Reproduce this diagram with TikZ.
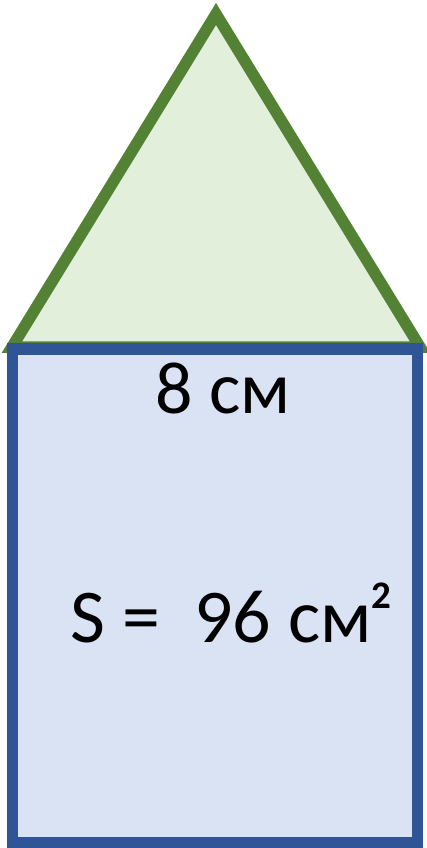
\documentclass[tikz,border=0pt]{standalone}
\usepackage{fontspec}
\setmainfont{Carlito}
\definecolor{trifill}{HTML}{E2EFDA}
\definecolor{tridraw}{HTML}{548235}
\definecolor{recfill}{HTML}{DAE3F3}
\definecolor{recdraw}{HTML}{2F5597}
\newcommand{\mysq}{\kern-1pt\raisebox{34pt}{\fontsize{39}{42}\selectfont\bfseries 2}}
\begin{document}
\begin{tikzpicture}[x=1pt,y=-1pt,
  tri/.style={fill=trifill,draw=tridraw,line width=11.5pt,line join=miter},
  rec/.style={fill=recfill,draw=recdraw,line width=11.5pt,line join=miter},
  lbl/.style={inner sep=0pt,anchor=base west,font=\fontsize{74}{80}\selectfont}]
\useasboundingbox (0,0) rectangle (426,848);
\draw[tri] (12,347) coordinate (bl) -- (216,14) coordinate (apex) -- (420,347) coordinate (br) -- cycle;
\draw[rec] (12.5,349) rectangle (417.5,842.5);
\node[lbl] (side) at (155,413) {8 см};
\node[lbl,font=\fontsize{76}{82}\selectfont] (area) at (70,642) {S =\ \ 96 см\mysq};
\end{tikzpicture}
\end{document}
